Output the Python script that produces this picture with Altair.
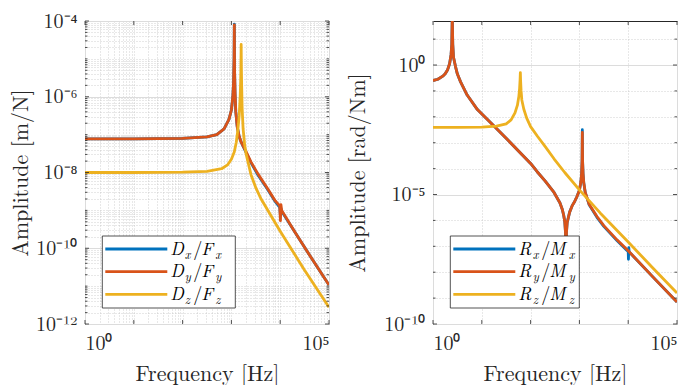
import math
import altair as alt
import pandas as pd

# ---------------- data (log10 frequency [Hz], log10 amplitude) ----------------
# Left panel: translation compliance [m/N]
dx_logf = [0, 1, 2, 2.5, 2.7, 2.85, 2.95, 3.0, 3.03, 3.045, 3.055, 3.06, 3.065, 3.075, 3.09, 3.12, 3.16, 3.2, 3.3, 3.4, 3.55, 3.74, 3.9, 3.99, 4.005, 4.015, 4.03, 4.3, 4.6, 5.0]
dx_loga = [-7.11, -7.11, -7.10, -7.06, -7.0, -6.85, -6.6, -6.35, -6.0, -5.6, -5.0, -4.08, -5.3, -5.9, -6.4, -6.8, -7.05, -7.2, -7.47, -7.74, -8.08, -8.44, -8.77, -8.92, -9.12, -8.95, -9.02, -9.57, -10.18, -10.97]
dy_logf = [0, 1, 2, 2.5, 2.7, 2.85, 2.95, 3.0, 3.03, 3.045, 3.055, 3.06, 3.065, 3.075, 3.09, 3.12, 3.16, 3.2, 3.3, 3.4, 3.55, 3.74, 3.9, 3.99, 4.005, 4.015, 4.03, 4.3, 4.6, 5.0]
dy_loga = [-7.11, -7.11, -7.10, -7.06, -7.0, -6.85, -6.6, -6.35, -6.0, -5.6, -5.0, -4.1, -5.3, -5.9, -6.4, -6.8, -7.05, -7.2, -7.45, -7.72, -8.05, -8.42, -8.75, -8.88, -9.27, -8.85, -9.0, -9.57, -10.18, -10.97]
dz_logf = [0, 1, 2, 2.5, 2.8, 2.92, 3.0, 3.06, 3.1, 3.13, 3.16, 3.18, 3.19, 3.196, 3.2, 3.204, 3.21, 3.22, 3.24, 3.27, 3.3, 3.4, 3.5, 3.6, 4.0, 4.5, 5.0]
dz_loga = [-8.0, -8.0, -7.99, -7.97, -7.9, -7.8, -7.65, -7.45, -7.2, -6.9, -6.5, -6.0, -5.6, -5.2, -4.62, -5.2, -5.7, -6.3, -6.85, -7.25, -7.5, -8.05, -8.4, -8.68, -9.55, -10.58, -11.56]

# Right panel: rotation compliance [rad/Nm]
rx_logf = [0, 0.1, 0.2, 0.25, 0.3, 0.34, 0.37, 0.385, 0.395, 0.405, 0.42, 0.46, 0.5, 0.565, 0.7, 0.91, 1.25, 1.52, 2.0, 2.135, 2.3, 2.48, 2.6, 2.65, 2.68, 2.7, 2.715, 2.725, 2.735, 2.75, 2.8, 2.85, 2.9, 2.95, 3.0, 3.03, 3.045, 3.055, 3.06, 3.065, 3.075, 3.09, 3.12, 3.2, 3.36, 3.5, 3.77, 3.97, 4.0, 4.005, 4.012, 4.02, 4.5, 5.0]
rx_loga = [-0.6, -0.55, -0.43, -0.34, -0.18, 0.05, 0.4, 0.8, 1.9, 0.8, 0.3, -0.05, -0.35, -0.65, -1.16, -1.72, -2.35, -2.87, -3.8, -4.12, -4.48, -4.92, -5.32, -5.58, -5.82, -6.05, -6.45, -7.6, -6.45, -6.08, -5.68, -5.44, -5.28, -5.08, -4.84, -4.52, -4.2, -3.7, -2.5, -3.7, -4.2, -4.55, -4.92, -5.4, -5.88, -6.23, -6.78, -7.15, -7.2, -7.5, -7.05, -7.22, -8.17, -9.15]
ry_logf = [0, 0.1, 0.2, 0.25, 0.3, 0.34, 0.37, 0.385, 0.395, 0.405, 0.42, 0.46, 0.5, 0.565, 0.7, 0.91, 1.25, 1.52, 2.0, 2.135, 2.3, 2.48, 2.6, 2.65, 2.68, 2.7, 2.715, 2.725, 2.735, 2.75, 2.8, 2.85, 2.9, 2.95, 3.0, 3.03, 3.045, 3.055, 3.06, 3.065, 3.075, 3.09, 3.12, 3.2, 3.36, 3.5, 3.77, 4.0, 4.5, 5.0]
ry_loga = [-0.6, -0.55, -0.43, -0.34, -0.18, 0.05, 0.4, 0.8, 1.9, 0.8, 0.3, -0.05, -0.35, -0.65, -1.16, -1.72, -2.35, -2.87, -3.8, -4.12, -4.48, -4.92, -5.32, -5.58, -5.82, -6.05, -6.45, -7.6, -6.45, -6.08, -5.68, -5.44, -5.28, -5.08, -4.84, -4.52, -4.2, -3.7, -2.6, -3.7, -4.2, -4.55, -4.92, -5.38, -5.85, -6.2, -6.75, -7.17, -8.17, -9.15]
rz_logf = [0, 0.5, 1.0, 1.3, 1.5, 1.6, 1.68, 1.73, 1.76, 1.775, 1.785, 1.79, 1.795, 1.805, 1.82, 1.86, 1.92, 2.0, 2.14, 2.3, 2.48, 2.7, 3.0, 3.43, 4.0, 4.5, 5.0]
rz_loga = [-2.41, -2.41, -2.40, -2.36, -2.27, -2.12, -1.85, -1.55, -1.2, -0.9, -0.55, -0.29, -0.6, -1.0, -1.35, -1.7, -2.05, -2.38, -2.75, -3.15, -3.62, -4.15, -4.82, -5.72, -6.83, -7.83, -8.8]

colors = ["#0072BD", "#D95319", "#EDB120"]

FONT = "Latin Modern Roman"
W, H = 244, 303
AXC = "#262626"


def series_df(logf, loga):
    return pd.DataFrame({"f": [10 ** v for v in logf], "a": [10 ** v for v in loga]})


def log_values(e0, e1, minor=True):
    vals = []
    for e in range(e0, e1):
        for k in (range(1, 10) if minor else [1]):
            vals.append(k * 10.0 ** e)
    vals.append(10.0 ** e1)
    return vals


SUP = str.maketrans("0123456789-", "⁰¹²³⁴⁵⁶⁷⁸⁹⁻")


def label_expr(exps):
    parts = [f"abs(log(datum.value)/LN10-({e}))<1e-6 ? '10{str(e).translate(SUP)}'" for e in exps]
    return " : ".join(parts) + " : ''"


def major_test(exps):
    return " || ".join(f"abs(log(datum.value)/LN10-({e}))<1e-6" for e in exps)


def make_axis(values, major_exps, title, orient, title_pos):
    test = major_test(major_exps)
    if orient == "left":
        extra = dict(titleX=title_pos, titleBaseline="middle", titleAlign="center",
                     titleAngle=270, labelPadding=8)
    else:
        extra = dict(titleY=title_pos, titleBaseline="alphabetic", labelPadding=9)
    return alt.Axis(
        values=values,
        title=title,
        labelExpr=label_expr(major_exps),
        domain=False,
        ticks=False,
        grid=True,
        gridColor={"condition": {"test": test, "value": "#dcdcdc"}, "value": "#bdbdbd"},
        gridDash={"condition": {"test": test, "value": []}, "value": [1, 2]},
        gridWidth={"condition": {"test": test, "value": 1}, "value": 0.7},
        labelFont=FONT, labelFontSize=20, labelColor=AXC,
        titleFont=FONT, titleFontSize=22, titleFontWeight="normal", titleColor=AXC,
        labelOverlap=False,
        **extra,
    )


dummy = pd.DataFrame({"d": [0]})


def inner_ticks(xs, ys, xtick_vals, ytick_vals, ymajor_exps):
    """Small inward tick marks on all four sides, placed through the scales."""
    layers = []
    xt = pd.DataFrame({"v": xtick_vals})
    for y0, y1 in ((0, 4), (H - 4, H)):
        layers.append(alt.Chart(xt).mark_rule(color=AXC, strokeWidth=0.8).encode(
            x=alt.X("v:Q", scale=xs), y=alt.value(y0), y2=alt.value(y1)))
    ytm = pd.DataFrame({
        "v": ytick_vals,
        "major": [1 if any(abs(math.log10(v) - e) < 1e-6 for e in ymajor_exps) else 0 for v in ytick_vals],
    })
    for side in ("l", "r"):
        for maj, ln in ((1, 4), (0, 2.5)):
            sub = ytm[ytm["major"] == maj]
            if len(sub) == 0:
                continue
            x0, x1 = (0, ln) if side == "l" else (W - ln, W)
            layers.append(alt.Chart(sub).mark_rule(color=AXC, strokeWidth=0.8).encode(
                y=alt.Y("v:Q", scale=ys), x=alt.value(x0), x2=alt.value(x1)))
    return layers


def legend(entries, x0, y0, w, h, offsets):
    layers = [
        alt.Chart(dummy).mark_rect(fill="white", stroke=AXC, strokeWidth=0.8).encode(
            x=alt.value(x0), x2=alt.value(x0 + w), y=alt.value(y0), y2=alt.value(y0 + h))
    ]
    row_gap = 22.7
    for i, (big1, sub1, big2, sub2) in enumerate(entries):
        yl = y0 + 13 + i * row_gap
        layers.append(alt.Chart(dummy).mark_rule(color=colors[i], strokeWidth=2.8).encode(
            x=alt.value(x0 + 3), x2=alt.value(x0 + 65), y=alt.value(yl)))
        tx = x0 + 68
        yb = yl + 5.5
        pieces = [(big1, offsets[0], yb, 18, "italic"), (sub1, offsets[1], yb + 4, 12.5, "italic"),
                  ("/", offsets[2], yb, 18, "normal"), (big2, offsets[3], yb, 18, "italic"),
                  (sub2, offsets[4], yb + 4, 12.5, "italic")]
        for txt, dx, yy, fs, st in pieces:
            layers.append(alt.Chart(dummy).mark_text(
                text=txt, align="left", baseline="alphabetic", font=FONT, fontSize=fs,
                fontStyle=st, color="#000000").encode(x=alt.value(tx + dx), y=alt.value(yy)))
    return layers


def panel(logfs, logas, ydomain, yvalues, ymajors, ytitle, ytitle_x, xvalues, ytickvals, legend_args):
    xs = alt.Scale(type="log", domain=[1, 1e5], nice=False)
    ys = alt.Scale(type="log", domain=ydomain, nice=False)
    xaxis = make_axis(xvalues, [0, 5], "Frequency [Hz]", "bottom", 56)
    yaxis = make_axis(yvalues, ymajors, ytitle, "left", ytitle_x)
    lines = []
    for i in range(3):
        lines.append(alt.Chart(series_df(logfs[i], logas[i])).mark_line(
            color=colors[i], strokeWidth=2.8, clip=True, strokeJoin="round").encode(
            x=alt.X("f:Q", scale=xs, axis=xaxis),
            y=alt.Y("a:Q", scale=ys, axis=yaxis)))
    ticks = inner_ticks(xs, ys, log_values(0, 5, minor=False), ytickvals, ymajors)
    return alt.layer(*lines, *ticks, *legend(*legend_args)).properties(width=W, height=H)


LEG_Y = H - 16 - 72

left = panel([dx_logf, dy_logf, dz_logf], [dx_loga, dy_loga, dz_loga],
             [1e-12, 1e-4], log_values(-12, -4), [-4, -6, -8, -10, -12], "Amplitude [m/N]", -65,
             log_values(0, 5), log_values(-12, -4),
             ([("D", "x", "F", "x"), ("D", "y", "F", "y"), ("D", "z", "F", "z")],
              17.3, LEG_Y, 133, 72, [0, 14.5, 23, 31, 45]))

right = panel([rx_logf, ry_logf, rz_logf], [rx_loga, ry_loga, rz_loga],
              [1e-10, 10 ** 1.7], log_values(-10, 1, minor=False), [0, -5, -10], "Amplitude [rad/Nm]", -75.7,
              log_values(0, 5, minor=False), log_values(-10, 1, minor=False),
              ([("R", "x", "M", "x"), ("R", "y", "M", "y"), ("R", "z", "M", "z")],
               17.3, LEG_Y, 129, 72, [0, 14.5, 23, 31, 50.5]))

chart = alt.hconcat(left, right, spacing=15).configure(font=FONT).configure_view(
    stroke=AXC, strokeWidth=1).configure_axis(labelFont=FONT, titleFont=FONT).properties(
    padding={"left": 0, "top": 2, "right": 0, "bottom": 0})

chart.save("out.html", embed_options={"renderer": "svg", "actions": False})
